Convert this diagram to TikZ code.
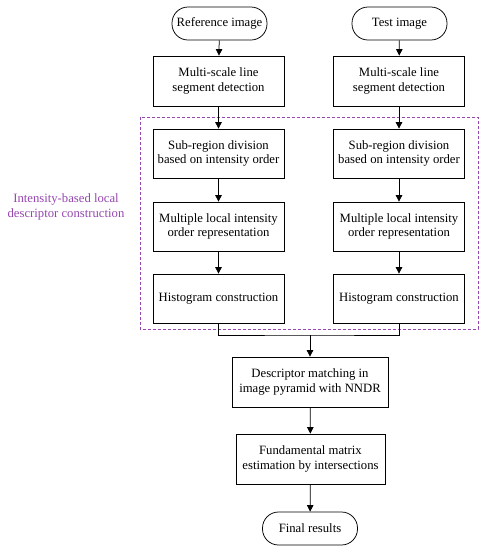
\documentclass[tikz,border=0pt]{standalone}
\usepackage{fontspec}
\setmainfont{Liberation Serif}
\usetikzlibrary{arrows.meta}
\definecolor{regionpurple}{RGB}{150,70,175}
\tikzset{
  every node/.style={font=\fontsize{12.7}{14.5}\selectfont},
  procbox/.style={draw, line width=0.75pt, align=center, minimum height=50pt, inner sep=2pt},
  termbox/.style={draw, line width=0.75pt, align=center, rounded corners=16pt, minimum height=33pt, minimum width=95pt, inner sep=2pt},
  flow/.style={line width=0.75pt, -{Triangle[length=6.5pt,width=6.5pt]}},
  plainline/.style={line width=0.75pt},
  region/.style={draw=regionpurple, line width=0.8pt, dash pattern=on 3pt off 2pt},
}
\begin{document}
\begin{tikzpicture}[x=1pt,y=-1pt]
\useasboundingbox (0,0) rectangle (488,550);
\draw[region] (140,117) rectangle (478,329);
\node[text=regionpurple, align=center] (lbl) at (66,207) {Intensity-based local\\descriptor construction};

\node[termbox] (ref) at (219.5,23.5) {Reference image};
\node[termbox] (test) at (399.5,23.5) {Test image};

\node[procbox, minimum width=131pt] (ms1) at (218.5,81) {Multi-scale line\\segment detection};
\node[procbox, minimum width=131pt] (ms2) at (399,81) {Multi-scale line\\segment detection};

\node[procbox, minimum width=131pt, minimum height=49pt] (sr1) at (218.5,153.5) {Sub-region division\\based on intensity order};
\node[procbox, minimum width=131pt, minimum height=49pt] (sr2) at (399,153.5) {Sub-region division\\based on intensity order};

\node[procbox, minimum width=131pt, minimum height=49pt] (ml1) at (218.5,226.5) {Multiple local intensity\\order representation};
\node[procbox, minimum width=131pt, minimum height=49pt] (ml2) at (399,226.5) {Multiple local intensity\\order representation};

\node[procbox, minimum width=131pt, minimum height=49pt] (hc1) at (218.5,298.5) {Histogram construction};
\node[procbox, minimum width=131pt, minimum height=49pt] (hc2) at (399,298.5) {Histogram construction};

\node[procbox, minimum width=156pt] (dm) at (310,382) {Descriptor matching in\\image pyramid with NNDR};
\node[procbox, minimum width=149pt] (fm) at (310.5,459) {Fundamental matrix\\estimation by intersections};
\node[termbox] (fr) at (310,528.5) {Final results};

\draw[flow] (ref) -- (ms1);
\draw[flow] (test) -- (ms2);
\draw[flow] (ms1) -- (sr1);
\draw[flow] (ms2) -- (sr2);
\draw[flow] (sr1) -- (ml1);
\draw[flow] (sr2) -- (ml2);
\draw[flow] (ml1) -- (hc1);
\draw[flow] (ml2) -- (hc2);
\coordinate (mj) at (310,335);
\draw[plainline] (hc1.south) |- (mj) -| (hc2.south);
\draw[flow] (mj) -- (dm.north);
\draw[flow] (dm) -- (fm);
\draw[flow] (fm) -- (fr);
\end{tikzpicture}
\end{document}
